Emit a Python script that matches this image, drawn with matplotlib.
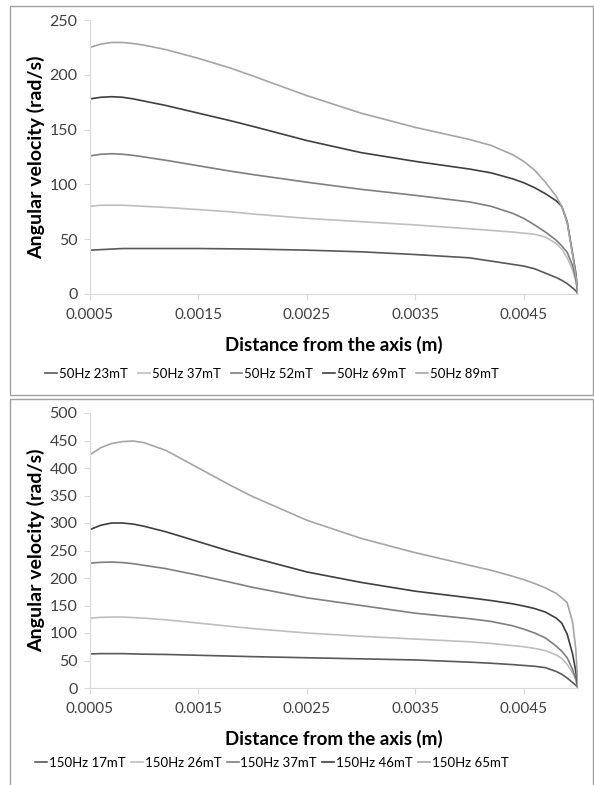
import matplotlib.pyplot as plt
from matplotlib.patches import Rectangle
from matplotlib.ticker import FixedLocator

# distance from the axis (m)
dist = [0.0005, 0.0006, 0.0007, 0.0008, 0.0009, 0.001, 0.0012, 0.0015, 0.0018,
        0.002, 0.0025, 0.003, 0.0035, 0.004, 0.0042, 0.0044, 0.0045, 0.0046,
        0.0047, 0.0048, 0.00485, 0.0049, 0.00495, 0.00498, 0.005]

# 50 Hz series (rad/s)
labels_50 = ["50Hz 23mT", "50Hz 37mT", "50Hz 52mT", "50Hz 69mT", "50Hz 89mT"]
v50_23 = [40, 40.5, 41, 41.5, 41.5, 41.5, 41.5, 41.5, 41.2, 41, 40, 38.5, 36, 33,
          30, 27, 25.5, 23, 19, 15, 12.5, 9.5, 5.5, 3, 0]
v50_37 = [80, 81, 81, 81, 80.5, 80, 79, 77, 75, 73, 69, 66, 63, 59.5, 58, 56.5,
          55.5, 54.5, 52, 46, 41, 33, 22, 11, 0]
v50_52 = [126, 127.5, 128, 127.5, 126.5, 125, 122, 117, 112, 109, 102, 95.5, 90,
          84, 80, 73.5, 69, 63, 56.5, 49, 44, 38, 26, 14, 0]
v50_69 = [178, 179.5, 180, 179.5, 178, 176, 172, 165, 158, 153, 140, 129, 121,
          114, 110.5, 105, 101.5, 97, 91.5, 85, 80, 66, 37, 19, 0]
v50_89 = [225, 228, 229.5, 229.5, 228.5, 227, 223, 215, 206, 199, 181, 165, 152,
          141, 135.5, 127, 121, 113, 102, 89, 80, 65, 36, 17, 0]

# 150 Hz series (rad/s)
labels_150 = ["150Hz 17mT", "150Hz 26mT", "150Hz 37mT", "150Hz 46mT", "150Hz 65mT"]
v150_17 = [62, 62.5, 62.5, 62.5, 62, 61.5, 61, 59.5, 58, 57, 55, 53, 51, 47, 45,
           42.5, 41, 39.5, 37, 30, 25, 18, 10, 5, 0]
v150_26 = [127, 128.5, 129, 129, 128, 127, 124, 118, 112, 108, 100, 94, 89, 84,
           81, 77, 75, 72, 68, 60, 54, 43, 28, 14, 0]
v150_37 = [227, 228.5, 229, 228, 226, 223, 217, 205, 192, 183, 164, 150, 136, 126,
           121, 113, 107, 100, 91, 76, 67, 55, 34, 17, 0]
v150_46 = [288, 296, 300, 300, 298, 294, 284, 266, 248, 237, 211, 192, 176, 164,
           159, 153, 149, 144.5, 138, 127, 118, 98, 62, 30, 0]
v150_65 = [424, 437, 444.5, 448, 449, 446, 432, 400, 368, 348, 305, 272, 246, 223,
           214, 203, 197, 190, 182, 172, 164, 155, 120, 70, 0]

colors = ["#595959", "#bfbfbf", "#7f7f7f", "#3f3f3f", "#a5a5a5"]
xticks = [0.0005, 0.0015, 0.0025, 0.0035, 0.0045]

plt.rcParams["font.family"] = ["Lato", "DejaVu Sans"]

W, H = 594, 785
fig = plt.figure(figsize=(W / 100, H / 100), dpi=100)


def frac(x0, y0, x1, y1):
    return [x0 / W, 1 - y1 / H, (x1 - x0) / W, (y1 - y0) / H]


def panel(rect, series, labels, ymax, ystep, legend_y, colsp):
    ax = fig.add_axes(rect)
    for vals, lab, c in zip(series, labels, colors):
        ax.plot(dist, vals, color=c, lw=1.2, label=lab)
    ax.set_xlim(0.0005, 0.005)
    ax.set_ylim(0, ymax)
    ax.xaxis.set_major_locator(FixedLocator(xticks))
    ax.set_xticklabels([f"{t:.4f}" for t in xticks])
    ax.set_yticks(range(0, ymax + 1, ystep))
    for s in ["top", "right"]:
        ax.spines[s].set_visible(False)
    for s in ["left", "bottom"]:
        ax.spines[s].set_color("#d9d9d9")
    ax.tick_params(colors="#d9d9d9", labelcolor="#404040", length=4,
                   direction="out")
    ax.tick_params(axis="x", labelsize=11, pad=6)
    ax.tick_params(axis="y", labelsize=11.5, pad=5)
    ax.set_xlabel("Distance from the axis (m)", fontsize=13.5, fontweight="bold",
                  labelpad=10)
    ax.set_ylabel("Angular velocity (rad/s)", fontsize=14, fontweight="bold",
                  labelpad=3)
    ax.legend(loc="center", bbox_to_anchor=(272 / W, legend_y),
              bbox_transform=fig.transFigure, ncol=5, frameon=False,
              fontsize=9.5, handlelength=0.9, handletextpad=0.15,
              columnspacing=colsp)
    return ax


panel(frac(90, 20, 578, 294), [v50_23, v50_37, v50_52, v50_69, v50_89],
      labels_50, 250, 50, 1 - 374 / H, 0.75)
panel(frac(90, 413, 578, 688), [v150_17, v150_26, v150_37, v150_46, v150_65],
      labels_150, 500, 50, 1 - 763 / H, 0.4)

for (x0, y0, x1, y1) in [(10, 6, 593, 395), (10, 399, 593, 800)]:
    fig.add_artist(Rectangle((x0 / W, 1 - y1 / H), (x1 - x0) / W, (y1 - y0) / H,
                             transform=fig.transFigure, fill=False,
                             edgecolor="#a0a0a0", lw=1))

fig.savefig("out.png", dpi=100)
